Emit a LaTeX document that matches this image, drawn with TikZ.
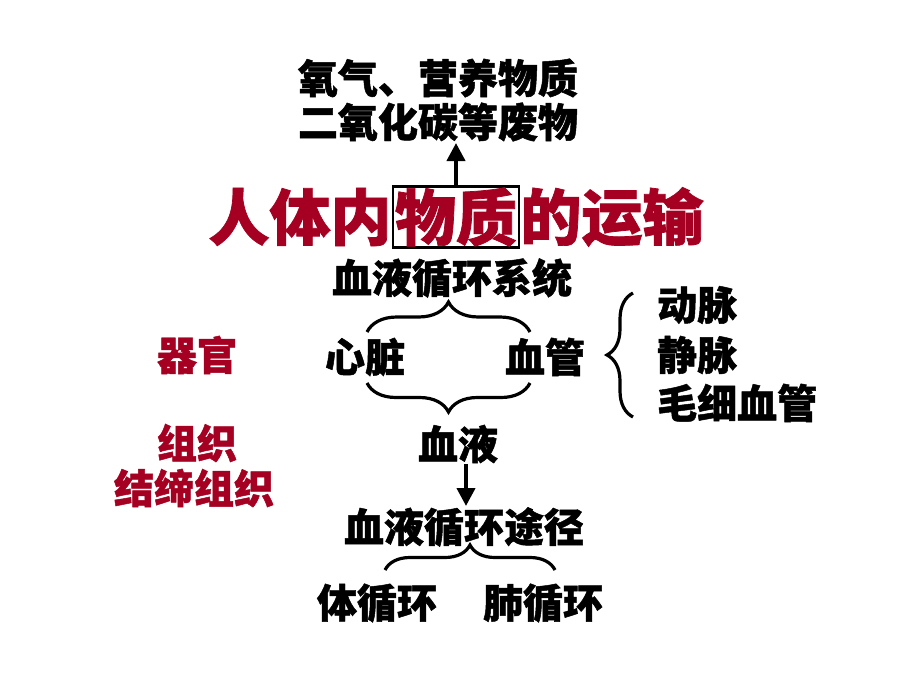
\documentclass[tikz,border=0pt]{standalone}
\usepackage{fontspec}
\setmainfont{Noto Sans CJK SC}[BoldFeatures={FakeBold=1.2}]
\usetikzlibrary{decorations.pathreplacing,arrows.meta}
\definecolor{darkred}{RGB}{165,0,33}
\begin{document}
\begin{tikzpicture}[x=1pt,y=-1pt,
  txt/.style={font=\bfseries\fontsize{40}{40}\selectfont, inner sep=0pt},
  redtxt/.style={txt, text=darkred},
  ttl/.style={font=\bfseries\fontsize{61}{61}\selectfont, inner sep=0pt, text=darkred},
  brc/.style={decorate, decoration={brace, amplitude=#1}, line width=3.2pt},
  arr/.style={-{Triangle[length=18pt,width=18pt]}, line width=4pt}]
\useasboundingbox (0,0) rectangle (920,690);
\fill[white] (0,0) rectangle (920,690);
% top texts
\node[txt] (o1) at (438,78) {氧气、营养物质};
\node[txt] (o2) at (438,122) {二氧化碳等废物};
% title
\node[ttl, draw=black, line width=2.5pt, inner xsep=2pt, minimum height=61pt] (t2) at (456,217) {物质};
\node[ttl, anchor=east] (t1) at (t2.west) {人体内};
\node[ttl, anchor=west] (t3) at (t2.east) {的运输};
\coordinate (a1s) at (t2.north);
\coordinate (a1e) at (456,143);
\draw[arr] (a1s) -- (a1e);
% system
\node[txt] (sys) at (452,278) {血液循环系统};
\node[txt] (heart) at (365,357) {心脏};
\node[txt] (vessel) at (545,357) {血管};
\coordinate (b1l) at (367,332);
\coordinate (b1r) at (530,332);
\draw[brc=30] (b1l) -- (b1r);
\coordinate (b2l) at (367,383);
\coordinate (b2r) at (530,383);
\draw[brc=29] (b2r) -- (b2l);
% vessel types
\node[txt, anchor=west] (art) at (657,305) {动脉};
\node[txt, anchor=west] (vein) at (657,355) {静脉};
\node[txt, anchor=west] (cap) at (657,403) {毛细血管};
\coordinate (b3t) at (633,293);
\coordinate (b3b) at (633,417);
\draw[brc=26] (b3b) -- (b3t);
% left labels
\node[redtxt] (organ) at (197,355) {器官};
\node[redtxt] (tissue) at (197,443) {组织};
\node[redtxt] (ctissue) at (194,488) {结缔组织};
% blood
\node[txt] (blood) at (458,444) {血液};
\node[txt] (path) at (464,527) {血液循环途径};
\coordinate (a2s) at (466,464);
\coordinate (a2e) at (466,506);
\draw[arr] (a2s) -- (a2e);
\coordinate (b4l) at (385,570);
\coordinate (b4r) at (555,570);
\draw[brc=25] (b4l) -- (b4r);
\node[txt] (sysc) at (377,603) {体循环};
\node[txt] (pulc) at (543,603) {肺循环};
\end{tikzpicture}
\end{document}
